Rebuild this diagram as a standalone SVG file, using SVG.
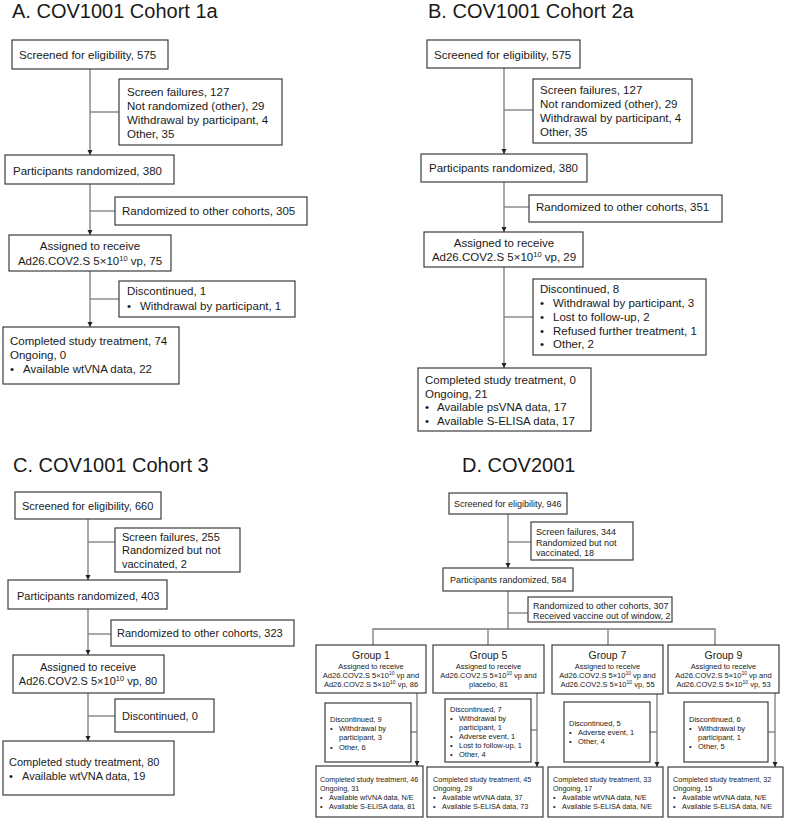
<svg xmlns="http://www.w3.org/2000/svg" width="787" height="821" viewBox="0 0 787 821">
<style>
text{font-family:"Liberation Sans",Arial,sans-serif;fill:#1a1a1a}
.title{font-size:20px}
.m{font-size:11.5px}
.c{font-size:11px}
.s{font-size:9px}
.g{font-size:10.5px}
.x{font-size:7.5px}
.y{font-size:7.2px}
.mid{text-anchor:middle}
rect{fill:#fff;stroke:#3c3c3c;stroke-width:1.2}
.ln{stroke:#7a7a7a;stroke-width:1.3;fill:none}
.ar{marker-end:url(#ah)}
</style>
<defs>
<marker id="ah" markerUnits="userSpaceOnUse" markerWidth="6" markerHeight="6" refX="5" refY="3" orient="auto">
<path d="M0,0.5 L5,3 L0,5.5 z" fill="#222"/>
</marker>
</defs>

<text class="title" x="12" y="18">A. COV1001 Cohort 1a</text>
<text class="title" x="428" y="18">B. COV1001 Cohort 2a</text>
<text class="title" x="13" y="472">C. COV1001 Cohort 3</text>
<text class="title" x="462" y="472">D. COV2001</text>

<g id="connectors">
<!-- A -->
<path class="ln ar" d="M90,69 V155"/>
<path class="ln" d="M90,112 H119"/>
<path class="ln ar" d="M90,184 V235"/>
<path class="ln" d="M90,211 H115"/>
<path class="ln ar" d="M90,271 V327"/>
<path class="ln" d="M90,299 H119"/>
<!-- B -->
<path class="ln ar" d="M504,68 V154"/>
<path class="ln" d="M504,110 H533"/>
<path class="ln ar" d="M504,182 V232"/>
<path class="ln" d="M504,207 H529"/>
<path class="ln ar" d="M504,267 V368"/>
<path class="ln" d="M504,317 H533"/>
<!-- C -->
<path class="ln ar" d="M88,519 V580"/>
<path class="ln" d="M88,542 H115"/>
<path class="ln ar" d="M88,609 V655"/>
<path class="ln" d="M88,634 H111"/>
<path class="ln ar" d="M88,693 V741"/>
<path class="ln" d="M88,716 H115"/>
<!-- D -->
<path class="ln ar" d="M508,514 V568"/>
<path class="ln" d="M508,542 H531"/>
<path class="ln" d="M508,591 V629"/>
<path class="ln" d="M508,613 H528"/>
<path class="ln" d="M373,645 V629 H715 V645"/>
<path class="ln" d="M488,629 V645"/>
<path class="ln" d="M608,629 V645"/>
<path class="ln ar" d="M417,693 V766"/>
<path class="ln" d="M411,732 H417"/>
<path class="ln ar" d="M537,693 V767"/>
<path class="ln" d="M531,730 H537"/>
<path class="ln ar" d="M657,694 V767"/>
<path class="ln" d="M650,732 H657"/>
<path class="ln ar" d="M775,693 V767"/>
<path class="ln" d="M768,732 H775"/>
</g>

<!-- Panel A -->
<g id="a-screened"><rect x="12" y="40" width="156" height="29"/><text class="m" x="19" y="59">Screened for eligibility, 575</text></g>
<g id="a-excluded"><rect x="119" y="79" width="163" height="66"/>
<text class="m" x="127" y="96">Screen failures, 127</text>
<text class="m" x="127" y="110">Not randomized (other), 29</text>
<text class="m" x="127" y="124">Withdrawal by participant, 4</text>
<text class="m" x="127" y="138">Other, 35</text></g>
<g id="a-randomized"><rect x="5" y="155" width="169" height="29"/><text class="m" x="13" y="174.5">Participants randomized, 380</text></g>
<g id="a-other"><rect x="115" y="197" width="192" height="28"/><text class="m" x="122" y="215">Randomized to other cohorts, 305</text></g>
<g id="a-assigned"><rect x="9" y="235" width="162" height="36"/>
<text class="m mid" x="90" y="250">Assigned to receive</text>
<text class="m mid" x="90" y="264.5">Ad26.COV2.S 5×10<tspan font-size="7.5" dy="-4">10</tspan><tspan dy="4"> vp, 75</tspan></text></g>
<g id="a-disc"><rect x="119" y="281" width="176" height="36"/>
<text class="m" x="127" y="295">Discontinued, 1</text>
<text class="m" x="127" y="310">•</text><text class="m" x="140" y="310">Withdrawal by participant, 1</text></g>
<g id="a-completed"><rect x="3" y="327" width="176" height="57"/>
<text class="m" x="10" y="345">Completed study treatment, 74</text>
<text class="m" x="10" y="359">Ongoing, 0</text>
<text class="m" x="10" y="373">•</text><text class="m" x="23" y="373">Available wtVNA data, 22</text></g>

<!-- Panel B -->
<g id="b-screened"><rect x="427" y="40" width="153" height="28"/><text class="m" x="434" y="59">Screened for eligibility, 575</text></g>
<g id="b-excluded"><rect x="533" y="79" width="159" height="64"/>
<text class="m" x="540" y="94">Screen failures, 127</text>
<text class="m" x="540" y="108">Not randomized (other), 29</text>
<text class="m" x="540" y="122">Withdrawal by participant, 4</text>
<text class="m" x="540" y="136">Other, 35</text></g>
<g id="b-randomized"><rect x="421" y="154" width="166" height="28"/><text class="m" x="429" y="172">Participants randomized, 380</text></g>
<g id="b-other"><rect x="529" y="195" width="193" height="27"/><text class="m" x="536" y="211">Randomized to other cohorts, 351</text></g>
<g id="b-assigned"><rect x="424" y="232" width="159" height="35"/>
<text class="m mid" x="504" y="247">Assigned to receive</text>
<text class="m mid" x="504" y="261">Ad26.COV2.S 5×10<tspan font-size="7.5" dy="-4">10</tspan><tspan dy="4"> vp, 29</tspan></text></g>
<g id="b-disc"><rect x="533" y="279" width="173" height="76"/>
<text class="m" x="540" y="293">Discontinued, 8</text>
<text class="m" x="540" y="307">•</text><text class="m" x="553" y="307">Withdrawal by participant, 3</text>
<text class="m" x="540" y="321">•</text><text class="m" x="553" y="321">Lost to follow-up, 2</text>
<text class="m" x="540" y="334.5">•</text><text class="m" x="553" y="334.5">Refused further treatment, 1</text>
<text class="m" x="540" y="348">•</text><text class="m" x="553" y="348">Other, 2</text></g>
<g id="b-completed"><rect x="418" y="368" width="173" height="63"/>
<text class="m" x="425" y="384">Completed study treatment, 0</text>
<text class="m" x="425" y="397.5">Ongoing, 21</text>
<text class="m" x="425" y="411">•</text><text class="m" x="437" y="411">Available psVNA data, 17</text>
<text class="m" x="425" y="424.5">•</text><text class="m" x="437" y="424.5">Available S-ELISA data, 17</text></g>

<!-- Panel C -->
<g id="c-screened"><rect x="15" y="492" width="146" height="27"/><text class="c" x="22" y="510">Screened for eligibility, 660</text></g>
<g id="c-excluded"><rect x="115" y="528" width="125" height="44"/>
<text class="c" x="122" y="540.5">Screen failures, 255</text>
<text class="c" x="122" y="554">Randomized but not</text>
<text class="c" x="122" y="568">vaccinated, 2</text></g>
<g id="c-randomized"><rect x="8" y="580" width="159" height="29"/><text class="c" x="17" y="599.5">Participants randomized, 403</text></g>
<g id="c-other"><rect x="111" y="620" width="183" height="26"/><text class="c" x="117" y="637">Randomized to other cohorts, 323</text></g>
<g id="c-assigned"><rect x="13" y="655" width="151" height="38"/>
<text class="c mid" x="88" y="671">Assigned to receive</text>
<text class="c mid" x="88" y="685">Ad26.COV2.S 5×10<tspan font-size="7.5" dy="-4">10</tspan><tspan dy="4"> vp, 80</tspan></text></g>
<g id="c-disc"><rect x="115" y="699" width="99" height="33"/><text class="c" x="122" y="720">Discontinued, 0</text></g>
<g id="c-completed"><rect x="3" y="741" width="171" height="54"/>
<text class="c" x="9" y="766">Completed study treatment, 80</text>
<text class="c" x="9" y="780">•</text><text class="c" x="22" y="780">Available wtVNA data, 19</text></g>

<!-- Panel D -->
<g id="d-screened"><rect x="449" y="493" width="118" height="21"/><text class="s" x="454" y="507">Screened for eligibility, 946</text></g>
<g id="d-excluded"><rect x="531" y="522" width="102" height="38"/>
<text class="s" x="536" y="535">Screen failures, 344</text>
<text class="s" x="536" y="545.5">Randomized but not</text>
<text class="s" x="536" y="556">vaccinated, 18</text></g>
<g id="d-randomized"><rect x="443" y="568" width="130" height="23"/><text class="s" x="450" y="583">Participants randomized, 584</text></g>
<g id="d-other"><rect x="528" y="597" width="144" height="25"/>
<text class="s" x="533" y="608.5">Randomized to other cohorts, 307</text>
<text class="s" x="533" y="619" font-size="8.7">Received vaccine out of window, 2</text></g>

<g id="d-group1"><rect x="316" y="645" width="110" height="48"/>
<text class="g mid" x="371" y="659">Group 1</text>
<text class="x mid" x="371" y="669">Assigned to receive</text>
<text class="x mid" x="371" y="678">Ad26.COV2.S 5×10<tspan font-size="5" dy="-3">10</tspan><tspan dy="3"> vp and</tspan></text>
<text class="x mid" x="371" y="687">Ad26.COV2.S 5×10<tspan font-size="5" dy="-3">10</tspan><tspan dy="3"> vp, 86</tspan></text></g>
<g id="d-group5"><rect x="433" y="645" width="111" height="48"/>
<text class="g mid" x="488.5" y="659">Group 5</text>
<text class="x mid" x="488.5" y="669">Assigned to receive</text>
<text class="x mid" x="488.5" y="678">Ad26.COV2.S 5×10<tspan font-size="5" dy="-3">10</tspan><tspan dy="3"> vp and</tspan></text>
<text class="x mid" x="488.5" y="687">placebo, 81</text></g>
<g id="d-group7"><rect x="552" y="645" width="111" height="49"/>
<text class="g mid" x="607.5" y="659">Group 7</text>
<text class="x mid" x="607.5" y="669">Assigned to receive</text>
<text class="x mid" x="607.5" y="678">Ad26.COV2.S 5×10<tspan font-size="5" dy="-3">10</tspan><tspan dy="3"> vp and</tspan></text>
<text class="x mid" x="607.5" y="687">Ad26.COV2.S 5×10<tspan font-size="5" dy="-3">10</tspan><tspan dy="3"> vp, 55</tspan></text></g>
<g id="d-group9"><rect x="668" y="645" width="111" height="48"/>
<text class="g mid" x="723.5" y="659">Group 9</text>
<text class="x mid" x="723.5" y="669">Assigned to receive</text>
<text class="x mid" x="723.5" y="678">Ad26.COV2.S 5×10<tspan font-size="5" dy="-3">10</tspan><tspan dy="3"> vp and</tspan></text>
<text class="x mid" x="723.5" y="687">Ad26.COV2.S 5×10<tspan font-size="5" dy="-3">10</tspan><tspan dy="3"> vp, 53</tspan></text></g>

<g id="d-disc1"><rect x="325" y="703" width="86" height="59"/>
<text class="x" x="330" y="722">Discontinued, 9</text>
<text class="x" x="330" y="731">•</text><text class="x" x="339" y="731">Withdrawal by</text>
<text class="x" x="339" y="740">participant, 3</text>
<text class="x" x="330" y="749.5">•</text><text class="x" x="339" y="749.5">Other, 6</text></g>
<g id="d-disc5"><rect x="445" y="699" width="86" height="63"/>
<text class="x" x="450" y="712">Discontinued, 7</text>
<text class="x" x="450" y="721">•</text><text class="x" x="459" y="721">Withdrawal by</text>
<text class="x" x="459" y="730">participant, 1</text>
<text class="x" x="450" y="739">•</text><text class="x" x="459" y="739">Adverse event, 1</text>
<text class="x" x="450" y="748">•</text><text class="x" x="459" y="748">Lost to follow-up, 1</text>
<text class="x" x="450" y="757">•</text><text class="x" x="459" y="757">Other, 4</text></g>
<g id="d-disc7"><rect x="564" y="702" width="86" height="60"/>
<text class="x" x="569" y="726">Discontinued, 5</text>
<text class="x" x="569" y="735">•</text><text class="x" x="578" y="735">Adverse event, 1</text>
<text class="x" x="569" y="744">•</text><text class="x" x="578" y="744">Other, 4</text></g>
<g id="d-disc9"><rect x="684" y="702" width="84" height="60"/>
<text class="x" x="689" y="722">Discontinued, 6</text>
<text class="x" x="689" y="731">•</text><text class="x" x="698" y="731">Withdrawal by</text>
<text class="x" x="698" y="740">participant, 1</text>
<text class="x" x="689" y="749">•</text><text class="x" x="698" y="749">Other, 5</text></g>

<g id="d-completed1"><rect x="316" y="766" width="107" height="51"/>
<text class="y" x="320" y="782">Completed study treatment, 46</text>
<text class="y" x="320" y="791">Ongoing, 31</text>
<text class="y" x="320" y="800">•</text><text class="y" x="329" y="800">Available wtVNA data, N/E</text>
<text class="y" x="320" y="809">•</text><text class="y" x="329" y="809">Available S-ELISA data, 81</text></g>
<g id="d-completed5"><rect x="427" y="767" width="116" height="50"/>
<text class="y" x="433" y="782">Completed study treatment, 45</text>
<text class="y" x="433" y="791">Ongoing, 29</text>
<text class="y" x="433" y="800">•</text><text class="y" x="442" y="800">Available wtVNA data, 37</text>
<text class="y" x="433" y="809">•</text><text class="y" x="442" y="809">Available S-ELISA data, 73</text></g>
<g id="d-completed7"><rect x="548" y="767" width="115" height="50"/>
<text class="y" x="553" y="782">Completed study treatment, 33</text>
<text class="y" x="553" y="791">Ongoing, 17</text>
<text class="y" x="553" y="800">•</text><text class="y" x="562" y="800">Available wtVNA data, N/E</text>
<text class="y" x="553" y="809">•</text><text class="y" x="562" y="809">Available S-ELISA data, N/E</text></g>
<g id="d-completed9"><rect x="668" y="767" width="115" height="50"/>
<text class="y" x="673" y="782">Completed study treatment, 32</text>
<text class="y" x="673" y="791">Ongoing, 15</text>
<text class="y" x="673" y="800">•</text><text class="y" x="682" y="800">Available wtVNA data, N/E</text>
<text class="y" x="673" y="809">•</text><text class="y" x="682" y="809">Available S-ELISA data, N/E</text></g>
</svg>
